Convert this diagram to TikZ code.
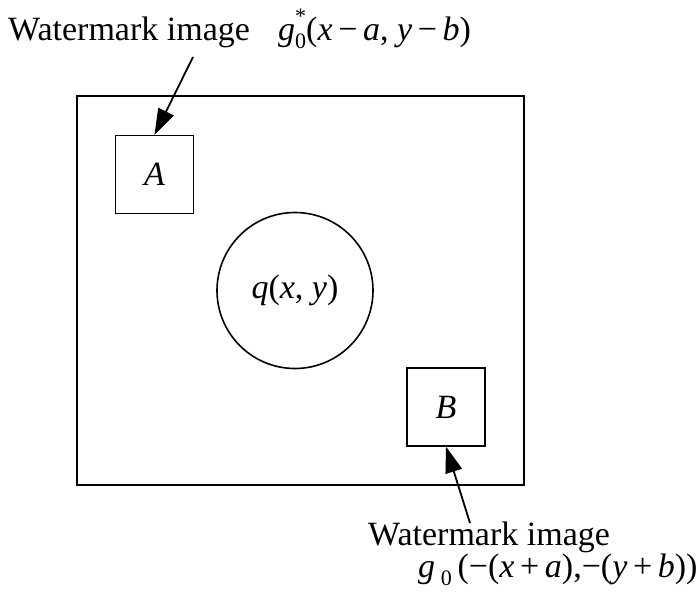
\documentclass[tikz,border=0pt]{standalone}
\usepackage{fontspec}
\setmainfont{Liberation Serif}
\usetikzlibrary{arrows.meta}
\newcommand\smallfnt{\fontsize{22}{22}\selectfont}
\newcommand\supsub[2]{\rlap{\raisebox{0.5em}{\smallfnt #1}}\raisebox{-0.25em}{\smallfnt #2}}
\newcommand\subonly[1]{\raisebox{-0.25em}{\smallfnt #1}}
\begin{document}
\begin{tikzpicture}[x=1pt,y=-1pt,
  font=\fontsize{34}{36}\selectfont,
  frame/.style={draw, line width=1.2pt, inner sep=0pt},
  wbox/.style={draw, line width=1.2pt, minimum width=78pt, minimum height=78pt, inner sep=0pt, font=\fontsize{34}{36}\selectfont\itshape},
  orb/.style={draw, circle, line width=1.6pt, minimum size=156pt, inner sep=0pt},
  lbl/.style={inner sep=0pt, anchor=base west},
  ptr/.style={-{Triangle[length=26pt,width=17pt]}, line width=1.8pt}]
\useasboundingbox (0,0) rectangle (699,600);
\node[frame, minimum width=447pt, minimum height=389pt] (frame) at (300.5,290.5) {};
\node[wbox] (A) at (154.5,174.5) {A};
\node[wbox] (B) at (446,407) {B};
\node[orb] (q) at (295,290.5) {\textit{q}(\textit{x}, \textit{y})};
\node[lbl] (t1) at (8,40) {Watermark image};
\node[lbl] (m1) at (278,40) {\textit{g}\supsub{*}{0}(\textit{x}\,−\,\textit{a}, \textit{y}\,−\,\textit{b})};
\node[lbl] (t2) at (368,545) {Watermark image};
\node[lbl] (m2) at (418,577) {\textit{g}\,\subonly{0}\,(−(\textit{x}\,+\,\textit{a}),−(\textit{y}\,+\,\textit{b}))};
\coordinate (ta) at (193,57);
\coordinate (tb) at (470,523);
\draw[ptr] (ta) -- (A.north);
\draw[ptr] (tb) -- (B.south);
\end{tikzpicture}
\end{document}
